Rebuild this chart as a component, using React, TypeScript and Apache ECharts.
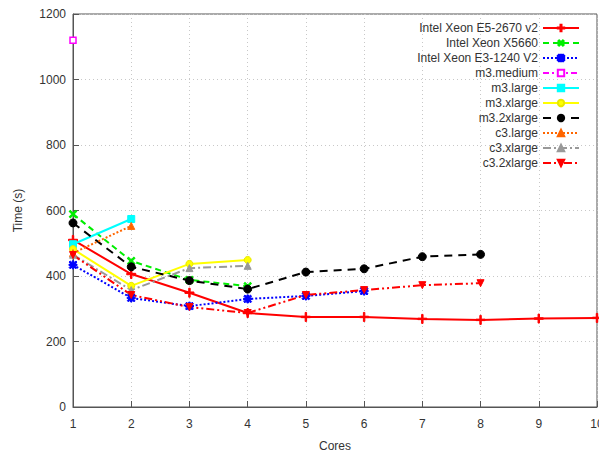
import React, { useEffect, useRef } from "react";
import * as echarts from "echarts";

const cores = [1, 2, 3, 4, 5, 6, 7, 8, 9, 10];
const yTicks = [0, 200, 400, 600, 800, 1000, 1200];

const e5_2670 = [510, 406, 349, 287, 275, 275, 269, 266, 270, 272];
const x5660 = [589, 446, 388, 369];
const e3_1240 = [434, 333, 308, 330, 339, 354];
const m3medium = [1120];
const m3large = [497, 574];
const m3xlarge = [482, 370, 437, 449];
const m3_2xlarge = [562, 428, 386, 360, 412, 422, 459, 466];
const c3large = [470, 553];
const c3xlarge = [465, 357, 424, 431];
const c3_2xlarge = [464, 342, 305, 287, 342, 357, 372, 378];

const PLUS = "path://M4.2,0H5.8V4.2H10V5.8H5.8V10H4.2V5.8H0V4.2H4.2Z";
const STAR = "path://M4,0H6V4H10V6H6V10H4V6H0V4H4Z M1.5,0.1L5,3.6L8.5,0.1L9.9,1.5L6.4,5L9.9,8.5L8.5,9.9L5,6.4L1.5,9.9L0.1,8.5L3.6,5L0.1,1.5Z";

const pairs = (vals: number[]) => vals.map((v, i) => [cores[i], v]);

export default function App() {
  const ref = useRef<HTMLDivElement>(null);
  useEffect(() => {
    if (!ref.current) return;
    const chart = echarts.init(ref.current, null, { renderer: "svg" });
    const mk = (
      name: string,
      vals: number[],
      color: string,
      type: any,
      symbol: string,
      symbolSize: number,
      extra: any = {}
    ) => ({
      name,
      type: "line",
      data: pairs(vals),
      color,
      symbol,
      symbolSize,
      showAllSymbol: true,
      lineStyle: { color, width: 2, type },
      itemStyle: { color, borderColor: color, borderWidth: 1 },
      ...extra,
    });
    chart.setOption({
      animation: false,
      textStyle: { fontFamily: "Liberation Sans, Arial, sans-serif" },
      grid: {
        left: 73,
        right: 2,
        top: 14,
        bottom: 45,
        show: true,
        borderColor: "#555",
        borderWidth: 1,
        containLabel: false,
        outerBoundsMode: "none",
      },
      legend: {
        right: 14,
        top: 17,
        orient: "vertical",
        align: "right",
        itemWidth: 36,
        itemHeight: 8,
        itemGap: 3,
        textStyle: { fontSize: 12, color: "#333" },
        data: [
          "Intel Xeon E5-2670 v2",
          "Intel Xeon X5660",
          "Intel Xeon E3-1240 V2",
          "m3.medium",
          "m3.large",
          "m3.xlarge",
          "m3.2xlarge",
          "c3.large",
          "c3.xlarge",
          "c3.2xlarge",
        ],
      },
      xAxis: {
        type: "value",
        min: 1,
        max: 10,
        interval: 1,
        name: "Cores",
        nameLocation: "middle",
        nameGap: 33,
        nameTextStyle: { fontSize: 12, color: "#333" },
        axisLine: { show: true, lineStyle: { color: "#555" } },
        axisTick: { show: true, inside: true, length: 6, lineStyle: { color: "#555" } },
        axisLabel: { fontSize: 12, color: "#333", margin: 11, showMaxLabel: true },
        splitLine: { show: true, lineStyle: { color: "#c8c8c8", type: [1, 3] } },
      },
      yAxis: {
        type: "value",
        min: yTicks[0],
        max: yTicks[yTicks.length - 1],
        interval: 200,
        name: "Time (s)",
        nameLocation: "middle",
        nameGap: 49,
        nameTextStyle: { fontSize: 12, color: "#333" },
        axisLine: { show: true, lineStyle: { color: "#555" } },
        axisTick: { show: true, inside: true, length: 6, lineStyle: { color: "#555" } },
        axisLabel: { fontSize: 12, color: "#333", margin: 7, formatter: (v: number) => String(v) },
        splitLine: { show: true, lineStyle: { color: "#c8c8c8", type: [1, 3] } },
      },
      series: [
        mk("Intel Xeon E5-2670 v2", e5_2670, "#ff0000", "solid", PLUS, 9),
        mk("Intel Xeon X5660", x5660, "#00ee00", [6, 4], PLUS, 9, { symbolRotate: 45 }),
        mk("Intel Xeon E3-1240 V2", e3_1240, "#0000ff", [2, 2], STAR, 8),
        mk("m3.medium", m3medium, "#ff00ff", [6, 3, 2, 3], "rect", 6, {
          itemStyle: { color: "#fff", borderColor: "#ff00ff", borderWidth: 1.5 },
        }),
        mk("m3.large", m3large, "#00ffff", "solid", "rect", 7),
        mk("m3.xlarge", m3xlarge, "#ffff00", "solid", "circle", 7, {
          itemStyle: { color: "#ffff00", borderColor: "#e8e800", borderWidth: 1 },
        }),
        mk("m3.2xlarge", m3_2xlarge, "#000000", [8, 6], "circle", 8),
        mk("c3.large", c3large, "#ff6600", [2, 2], "triangle", 7),
        mk("c3.xlarge", c3xlarge, "#999999", [8, 3, 2, 3], "triangle", 7),
        mk("c3.2xlarge", c3_2xlarge, "#ff0000", [8, 3, 2, 3, 2, 3], "triangle", 7, {
          symbolRotate: 180,
        }),
      ],
    });
    return () => chart.dispose();
  }, []);
  return (
    <div
      ref={ref}
      style={{ position: "absolute", left: 0, top: 0, width: 599, height: 452 }}
    />
  );
}
